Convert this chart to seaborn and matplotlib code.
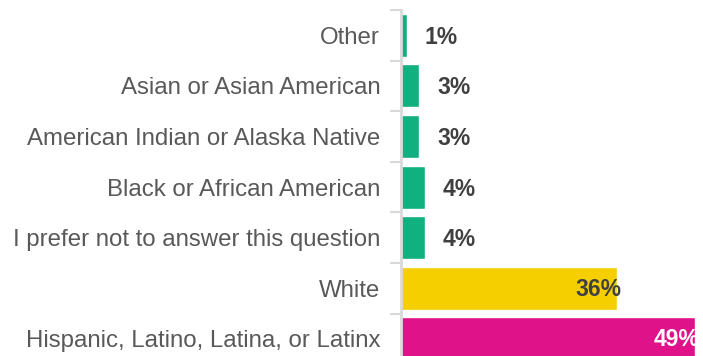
import matplotlib
matplotlib.use("Agg")
import matplotlib.pyplot as plt
import seaborn as sns
import pandas as pd

categories = [
    "Other",
    "Asian or Asian American",
    "American Indian or Alaska Native",
    "Black or African American",
    "I prefer not to answer this question",
    "White",
    "Hispanic, Latino, Latina, or Latinx",
]
values = [1, 3, 3, 4, 4, 36, 49]
colors = ["#10B07F", "#10B07F", "#10B07F", "#10B07F", "#10B07F", "#F5CF00", "#DF128A"]

df = pd.DataFrame({"group": categories, "pct": values})

sns.set_theme(style="white")
plt.rcParams["font.family"] = ["Liberation Sans", "DejaVu Sans"]

W, H = 703, 356
fig = plt.figure(figsize=(W / 100, H / 100), dpi=100)
ax_left, ax_top, band = 401, 10, 50.6
ax_h = band * len(categories)
ax = fig.add_axes([ax_left / W, 1 - (ax_top + ax_h) / H, (W - ax_left) / W, ax_h / H])

sns.barplot(data=df, y="group", x="pct", hue="group", palette=colors,
            orient="h", width=0.85, legend=False, ax=ax, saturation=1)

px_per_unit = 6.0
ax.set_xlim(0, (W - ax_left) / px_per_unit)
ax.set_ylim(len(categories) - 0.5, -0.5)

for i, v in enumerate(values):
    if v >= 20:
        col = "white" if v > 40 else "#404040"
        ax.annotate(f"{v}%", (v, i), xytext=(4, -1), textcoords="offset pixels",
                    ha="right", va="center", fontsize=16.5, fontweight="bold", color=col)
    else:
        ax.annotate(f"{v}%", (v, i), xytext=(18, -2), textcoords="offset pixels",
                    ha="left", va="center", fontsize=16.5, fontweight="bold", color="#404040")

ax.set_xlabel("")
ax.set_ylabel("")
ax.set_xticks([])
ax.set_yticks(range(len(categories)))
ax.set_yticklabels(categories, fontsize=17.3, color="#595959")
ax.set_yticks([i - 0.5 for i in range(len(categories) + 1)], minor=True)
ax.tick_params(axis="y", which="major", length=0, pad=15)
ax.tick_params(axis="y", which="minor", left=True, length=8, width=1.5, color="#D9D9D9")

for s in ["top", "right", "bottom"]:
    ax.spines[s].set_visible(False)
ax.spines["left"].set_color("#D9D9D9")
ax.spines["left"].set_linewidth(2)

fig.savefig("out.png", dpi=100)
